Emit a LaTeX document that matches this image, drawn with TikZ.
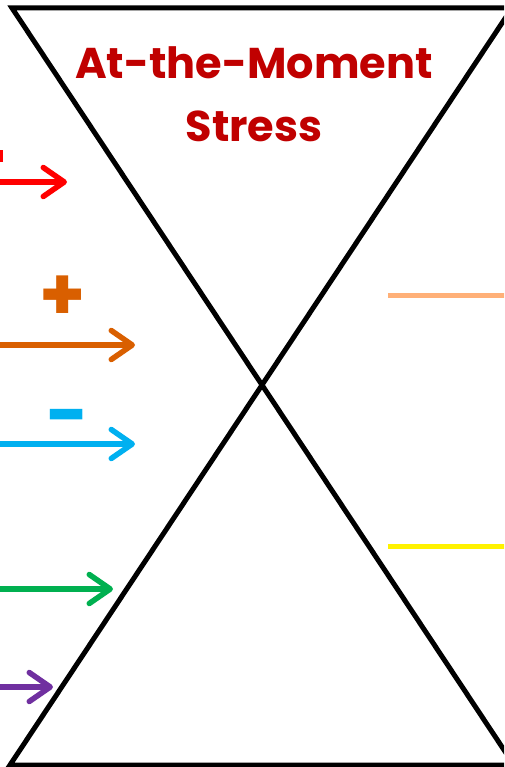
\documentclass[tikz,border=0pt]{standalone}
\usepackage{fontspec}
\setmainfont{Poppins}
\usepackage{tikz}
\usetikzlibrary{arrows.meta,positioning,calc}
\definecolor{stressred}{RGB}{192,0,0}
\definecolor{arrred}{RGB}{255,0,0}
\definecolor{arrorange}{RGB}{217,95,0}
\definecolor{arrblue}{RGB}{0,176,240}
\definecolor{arrgreen}{RGB}{0,176,80}
\definecolor{arrpurple}{RGB}{112,48,160}
\definecolor{peach}{RGB}{255,176,120}

\begin{document}
\begin{tikzpicture}[x=0.02cm,y=-0.02cm,line join=miter]
    \tikzset{
        hourglass/.style={
            draw=black,
            line width=0.1cm
        },
        stressarrow/.style={
            line width=0.11cm,
            -{Straight Barb[length=0.42cm,width=0.58cm,round]}
        },
        marker/.style={
            line width=0.1cm
        },
        sign/.style={
            font=\bfseries\fontsize{42}{42}\selectfont,
            inner sep=0pt
        }
    }
    \useasboundingbox (0,0) rectangle (504,767);
    \clip (0,0) rectangle (504,767);

    % Hourglass
    \coordinate (TL) at (12,8);
    \coordinate (TR) at (512,8);
    \coordinate (BL) at (10,765);
    \coordinate (BR) at (514,765);
    \draw[hourglass] (TL) -- (TR) -- (BL) -- (BR) -- cycle;

    \node[
        text=stressred,
        font=\bfseries\fontsize{24.5}{36}\selectfont,
        align=center
    ] (title) at (254,94) {At-the-Moment\\Stress};

    % Arrows on the left
    \coordinate (red_S) at (-5,182);
    \coordinate (red_E) at (67,182);
    \coordinate (orange_S) at (-5,345);
    \coordinate (orange_E) at (135,345);
    \coordinate (blue_S) at (-5,444);
    \coordinate (blue_E) at (135,444);
    \coordinate (green_S) at (-5,589);
    \coordinate (green_E) at (113,589);
    \coordinate (purple_S) at (-5,687);
    \coordinate (purple_E) at (53,687);

    \fill[arrred] (0,150) rectangle (3,162);
    \draw[stressarrow, arrred] (red_S) -- (red_E);
    \draw[stressarrow, arrorange] (orange_S) -- (orange_E);
    \draw[stressarrow, arrblue] (blue_S) -- (blue_E);
    \draw[stressarrow, arrgreen] (green_S) -- (green_E);
    \draw[stressarrow, arrpurple] (purple_S) -- (purple_E);

    \node[sign, text=arrorange] (plus) at (63,298) {+};
    \node[sign, text=arrblue] (minus) at (68,425) {-};

    % Lines on the right
    \coordinate (peach_S) at (388,295);
    \coordinate (peach_E) at (510,295);
    \coordinate (yellow_S) at (388,546);
    \coordinate (yellow_E) at (510,546);
    \draw[marker, peach] (peach_S) -- (peach_E);
    \draw[marker, yellow] (yellow_S) -- (yellow_E);
\end{tikzpicture}
\end{document}
